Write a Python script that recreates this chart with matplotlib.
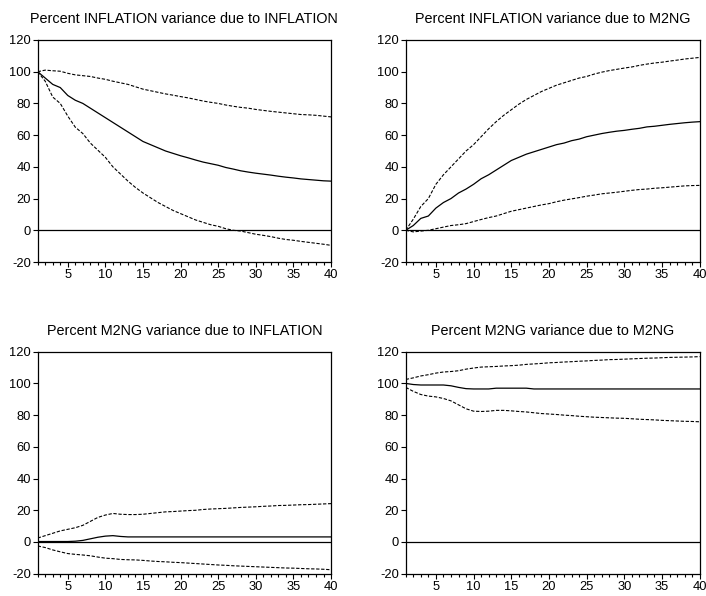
import numpy as np
import matplotlib
matplotlib.use("Agg")
import matplotlib.pyplot as plt
from matplotlib.ticker import MultipleLocator

plt.rcParams['font.family'] = ['Liberation Sans', 'DejaVu Sans']
plt.rcParams['axes.unicode_minus'] = False

periods = np.arange(1, 41)

# Percent INFLATION variance due to INFLATION
inf_inf = [100, 96, 92, 90, 85, 82, 80, 77, 74, 71, 68, 65, 62, 59, 56, 54, 52, 50, 48.5, 47,
           45.7, 44.3, 43, 42, 41, 39.6, 38.6, 37.5, 36.7, 36, 35.4, 34.8, 34.1, 33.5, 33, 32.4, 32, 31.6, 31.2, 31]
inf_inf_hi = [100, 101, 100.6, 100.3, 99, 98, 97.5, 97, 96, 95.2, 94, 93, 92, 90.5, 89, 88, 87, 86, 85.2, 84.3,
              83.5, 82.5, 81.5, 80.7, 80, 79, 78.2, 77.5, 77, 76.2, 75.6, 75, 74.5, 74, 73.5, 73, 72.8, 72.5, 72, 71.5]
inf_inf_lo = [100, 94, 84, 80, 72, 65, 61, 55, 50.5, 46, 40, 35.5, 31, 27, 23.5, 20.5, 17.5, 15, 12.5, 10.5,
              8.5, 6.5, 5, 3.5, 2.5, 1, 0, -0.5, -1.5, -2.5, -3.2, -4, -5, -5.8, -6.3, -7, -7.6, -8.2, -8.8, -9.5]

# Percent INFLATION variance due to M2NG
inf_m2 = [0, 3, 7.5, 9, 14, 17.5, 20, 23.5, 26, 29, 32.5, 35, 38, 41, 44, 46, 48, 49.5, 51, 52.5,
          54, 55, 56.5, 57.5, 59, 60, 61, 61.8, 62.5, 63, 63.7, 64.3, 65.2, 65.6, 66.2, 66.8, 67.3, 67.8, 68.2, 68.5]
inf_m2_hi = [0, 7, 15, 20, 29, 35, 40, 45, 50, 54, 59, 64, 68.5, 72.5, 76, 79.5, 82.5, 85, 87.5, 89.5,
             91.5, 93, 94.5, 96, 97, 98.5, 99.7, 100.7, 101.5, 102.3, 103, 104, 104.8, 105.5, 106, 106.7, 107.3, 108, 108.5, 109]
inf_m2_lo = [0, -1, -0.5, 0, 1, 2, 3, 3.5, 4.2, 5.5, 6.8, 8, 9, 10.5, 12, 13, 14, 15, 16, 16.8,
             18, 19, 19.8, 20.6, 21.5, 22.2, 23, 23.5, 24, 24.6, 25.2, 25.7, 26, 26.5, 26.8, 27.2, 27.6, 28, 28.2, 28.3]

# Percent M2NG variance due to INFLATION
m2_inf = [0.3, 0.3, 0.3, 0.3, 0.3, 0.5, 1, 2, 3, 3.7, 4, 3.5, 3.2, 3.2, 3.2, 3.2, 3.2, 3.2, 3.2, 3.2,
          3.2, 3.2, 3.2, 3.2, 3.2, 3.2, 3.2, 3.2, 3.2, 3.2, 3.2, 3.2, 3.2, 3.2, 3.2, 3.2, 3.2, 3.2, 3.2, 3.2]
m2_inf_hi = [2.5, 4, 5.5, 7, 8, 9, 10.5, 13, 15.5, 17, 18, 17.5, 17.3, 17.3, 17.5, 18, 18.5, 19, 19.2, 19.5,
             19.8, 20, 20.5, 20.8, 21, 21.2, 21.5, 21.8, 22, 22.2, 22.5, 22.7, 23, 23.1, 23.3, 23.5, 23.6, 23.8, 24, 24.2]
m2_inf_lo = [-2.5, -3.5, -5, -6.2, -7.3, -7.8, -8.2, -8.7, -9.5, -10.2, -10.5, -11, -11.2, -11.3, -11.6, -12, -12.3, -12.5, -12.8, -13,
             -13.3, -13.6, -13.9, -14.2, -14.5, -14.7, -15, -15.2, -15.4, -15.6, -15.8, -16, -16.2, -16.4, -16.5, -16.7, -16.9, -17, -17.2, -17.5]

# Percent M2NG variance due to M2NG
m2_m2 = [100, 99.3, 99, 99, 99, 99, 98.5, 97.5, 96.7, 96.5, 96.5, 96.5, 97, 97, 97, 97, 97, 96.5, 96.5, 96.5,
         96.5, 96.5, 96.5, 96.5, 96.5, 96.5, 96.5, 96.5, 96.5, 96.5, 96.5, 96.5, 96.5, 96.5, 96.5, 96.5, 96.5, 96.5, 96.5, 96.5]
m2_m2_hi = [102.5, 103.5, 104.7, 105.5, 106.5, 107.2, 107.5, 108, 109, 109.7, 110.3, 110.5, 110.7, 111, 111.2, 111.5, 112, 112.3, 112.6, 113,
            113.2, 113.5, 113.7, 114, 114.2, 114.5, 114.7, 115, 115.1, 115.3, 115.5, 115.7, 115.9, 116, 116.2, 116.4, 116.5, 116.6, 116.7, 116.9]
m2_m2_lo = [97.5, 95, 93, 92, 91.5, 90.5, 89, 86.5, 84, 82.5, 82.3, 82.5, 83, 83, 82.7, 82.3, 82, 81.5, 81, 80.7,
            80.4, 80, 79.7, 79.3, 79, 78.7, 78.5, 78.3, 78.1, 78, 77.7, 77.4, 77.2, 77, 76.7, 76.5, 76.3, 76.1, 76, 75.8]

titles = ["Percent INFLATION variance due to INFLATION",
          "Percent INFLATION variance due to M2NG",
          "Percent M2NG variance due to INFLATION",
          "Percent M2NG variance due to M2NG"]
panels = [(inf_inf, inf_inf_hi, inf_inf_lo),
          (inf_m2, inf_m2_hi, inf_m2_lo),
          (m2_inf, m2_inf_hi, m2_inf_lo),
          (m2_m2, m2_m2_hi, m2_m2_lo)]

# axes boxes in figure fractions [left, bottom, width, height]
boxes = [[0.0534, 0.5604, 0.4155, 0.3725],
         [0.5747, 0.5604, 0.4164, 0.3725],
         [0.0534, 0.0374, 0.4155, 0.3725],
         [0.5747, 0.0374, 0.4164, 0.3725]]

fig = plt.figure(figsize=(7.06, 5.96), dpi=100)

for box, title, (mid, hi, lo) in zip(boxes, titles, panels):
    ax = fig.add_axes(box)
    ax.axhline(0, color='black', lw=0.9)
    ax.plot(periods, mid, color='black', lw=0.9)
    ax.plot(periods, hi, color='black', lw=0.8, ls=(0, (3, 1.5)))
    ax.plot(periods, lo, color='black', lw=0.8, ls=(0, (3, 1.5)))
    ax.set_xlim(1, 40)
    ax.set_ylim(-20, 120)
    ax.set_xticks([5, 10, 15, 20, 25, 30, 35, 40])
    ax.xaxis.set_minor_locator(MultipleLocator(1))
    ax.set_yticks(range(-20, 121, 20))
    ax.tick_params(which='major', direction='out', length=3.5, width=0.8, labelsize=9.3, pad=1.5)
    ax.tick_params(which='minor', direction='out', length=2.5, width=0.8)
    for s in ax.spines.values():
        s.set_linewidth(0.9)
    ax.set_title(title, fontsize=10.4, pad=12)

fig.savefig("out.png", dpi=100)
